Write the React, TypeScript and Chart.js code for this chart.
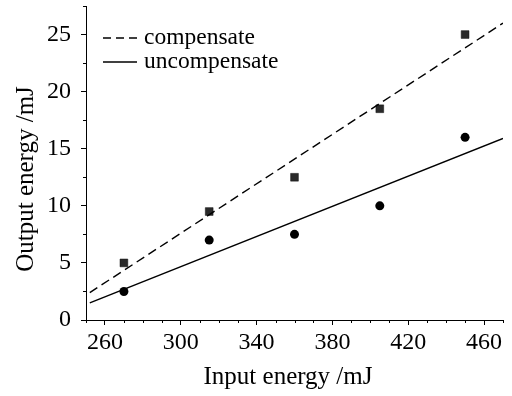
import React, { useEffect, useRef } from "react";
import { Chart, registerables } from "chart.js";

Chart.register(...registerables);

// Measured data points (Input energy mJ -> Output energy mJ)
const inputEnergy = [270, 315, 360, 405, 450];
const outputCompensate = [5, 9.5, 12.5, 18.5, 25];
const outputUncompensate = [2.5, 7, 7.5, 10, 16];

// Fitted lines (end points)
const fitX = [252, 470];
const fitCompensate = [2.4, 26.0];
const fitUncompensate = [1.5, 15.9];

const legendLabels = ["compensate", "uncompensate"];
const xTitle = "Input energy /mJ";
const yTitle = "Output energy /mJ";

const FONT = "'Liberation Serif', 'DejaVu Serif', serif";

const minorTicks = {
  id: "minorTicks",
  afterDraw(chart: any) {
    const ctx = chart.ctx;
    ctx.save();
    ctx.strokeStyle = "#000";
    ctx.lineWidth = 1;
    const xs = chart.scales.x;
    const ys = chart.scales.y;
    xs.ticks.forEach((t: any) => {
      if ((t.value - 260) % 40 === 0) return;
      const px = Math.round(xs.getPixelForValue(t.value)) + 0.5;
      ctx.beginPath();
      ctx.moveTo(px, xs.top);
      ctx.lineTo(px, xs.top + 3);
      ctx.stroke();
    });
    ys.ticks.forEach((t: any) => {
      if (Math.abs(t.value % 5) < 1e-6) return;
      const py = Math.round(ys.getPixelForValue(t.value)) + 0.5;
      ctx.beginPath();
      ctx.moveTo(ys.right, py);
      ctx.lineTo(ys.right - 3, py);
      ctx.stroke();
    });
    ctx.restore();
  },
};

const titlesAndLegend = {
  id: "titlesAndLegend",
  afterDraw(chart: any) {
    const ctx = chart.ctx;
    ctx.save();
    ctx.fillStyle = "#000";
    // axis titles
    ctx.font = `25px ${FONT}`;
    ctx.textAlign = "center";
    ctx.textBaseline = "alphabetic";
    ctx.fillText(xTitle, 288, 384);
    ctx.textBaseline = "middle";
    ctx.save();
    ctx.translate(26, 179);
    ctx.rotate(-Math.PI / 2);
    ctx.fillText(yTitle, 0, 0);
    ctx.restore();
    // legend
    ctx.font = `23.5px ${FONT}`;
    ctx.textAlign = "left";
    const rows = [
      { label: legendLabels[0], dash: [8, 5], y: 38 },
      { label: legendLabels[1], dash: [], y: 62 },
    ];
    rows.forEach((r) => {
      ctx.beginPath();
      ctx.setLineDash(r.dash);
      ctx.lineWidth = 1.4;
      ctx.strokeStyle = "#000";
      ctx.moveTo(103, r.y);
      ctx.lineTo(137, r.y);
      ctx.stroke();
      ctx.setLineDash([]);
      ctx.fillText(r.label, 144, r.y);
    });
    ctx.restore();
  },
};

export default function App() {
  const ref = useRef<HTMLCanvasElement | null>(null);

  useEffect(() => {
    if (!ref.current) return;
    const toPts = (xs: number[], ys: number[]) => xs.map((x, i) => ({ x, y: ys[i] }));
    const chart = new Chart(ref.current, {
      type: "scatter",
      data: {
        datasets: [
          {
            label: legendLabels[0],
            data: toPts(fitX, fitCompensate),
            showLine: true,
            borderColor: "#000",
            borderWidth: 1.4,
            borderDash: [9, 5],
            pointRadius: 0,
            fill: false,
          },
          {
            label: legendLabels[1],
            data: toPts(fitX, fitUncompensate),
            showLine: true,
            borderColor: "#000",
            borderWidth: 1.4,
            pointRadius: 0,
            fill: false,
          },
          {
            label: "compensate data",
            data: toPts(inputEnergy, outputCompensate),
            pointStyle: "rect",
            pointRadius: 5.5,
            backgroundColor: "#2a2a2a",
            borderColor: "#111",
            borderWidth: 0.5,
          },
          {
            label: "uncompensate data",
            data: toPts(inputEnergy, outputUncompensate),
            pointStyle: "circle",
            pointRadius: 4.5,
            backgroundColor: "#000",
            borderColor: "#000",
            borderWidth: 0,
          },
        ],
      },
      options: {
        animation: false,
        responsive: false,
        layout: { padding: { top: 6, right: 9, left: 0, bottom: 0 } },
        plugins: {
          legend: { display: false },
          tooltip: { enabled: false },
        },
        scales: {
          x: {
            type: "linear",
            min: 250,
            max: 470,
            afterFit: (s: any) => {
              s.height = 76;
              s.paddingLeft = 0;
              s.paddingRight = 0;
            },
            ticks: {
              stepSize: 10,
              autoSkip: false,
              maxRotation: 0,
              padding: 3,
              color: "#000",
              font: { family: FONT, size: 24 },
              callback: (v: any) => ((Number(v) - 260) % 40 === 0 ? String(v) : ""),
            },
            grid: {
              drawOnChartArea: false,
              drawTicks: true,
              tickLength: 5,
              color: (c: any) =>
                c.tick && (c.tick.value - 260) % 40 === 0 ? "#000" : "rgba(0,0,0,0)",
            },
            border: { display: true, color: "#000", width: 1 },
            title: { display: false },
          },
          y: {
            type: "linear",
            min: 0,
            max: 27.5,
            afterFit: (s: any) => {
              s.width = 86;
              s.paddingTop = 0;
              s.paddingBottom = 0;
            },
            ticks: {
              stepSize: 2.5,
              autoSkip: false,
              padding: 10,
              color: "#000",
              font: { family: FONT, size: 24 },
              callback: (v: any) => (Math.abs(Number(v) % 5) < 1e-6 ? String(v) : ""),
            },
            grid: {
              drawOnChartArea: false,
              drawTicks: true,
              tickLength: 5,
              color: (c: any) =>
                c.tick && Math.abs(c.tick.value % 5) < 1e-6 ? "#000" : "rgba(0,0,0,0)",
            },
            border: { display: true, color: "#000", width: 1 },
            title: { display: false },
          },
        },
      },
      plugins: [minorTicks, titlesAndLegend],
    });
    return () => chart.destroy();
  }, []);

  return (
    <div style={{ position: "fixed", left: 0, top: 0, width: 512, height: 396, background: "#fff" }}>
      <canvas ref={ref} width={512} height={396} style={{ width: 512, height: 396 }} />
    </div>
  );
}
